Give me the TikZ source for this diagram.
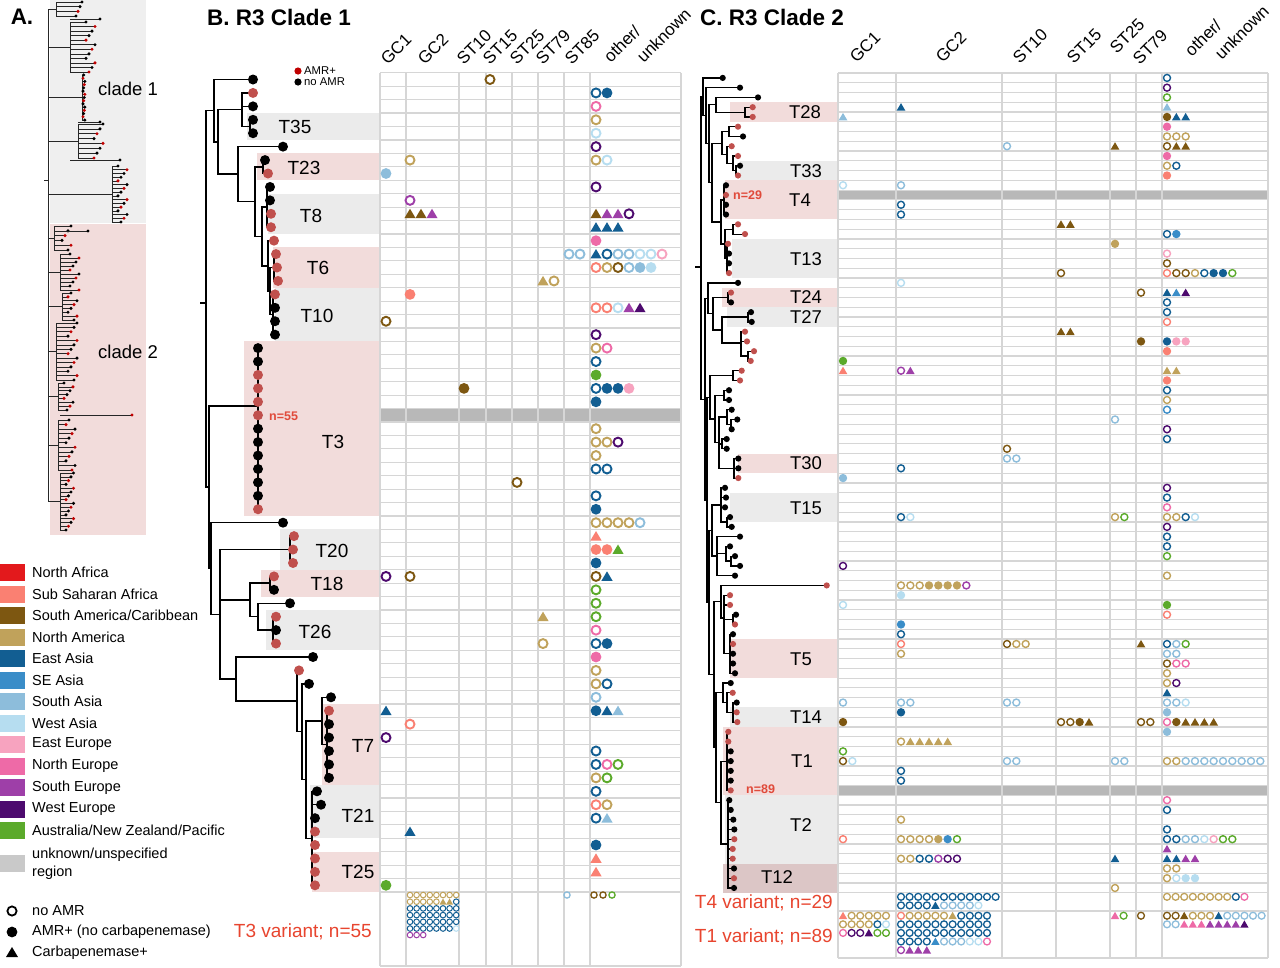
\documentclass[tikz,border=0pt]{standalone}
\usepackage{fontspec}
\setmainfont{Liberation Sans}
\definecolor{cNAf}{HTML}{E3191C}
\definecolor{cSSA}{HTML}{FA8072}
\definecolor{cSAm}{HTML}{7D5711}
\definecolor{cNAm}{HTML}{C0A25B}
\definecolor{cEA}{HTML}{125E92}
\definecolor{cSEA}{HTML}{3A8DC8}
\definecolor{cSAs}{HTML}{8DBDDB}
\definecolor{cWA}{HTML}{B6DDF0}
\definecolor{cEE}{HTML}{F7A3BF}
\definecolor{cNE}{HTML}{EE6AA7}
\definecolor{cSE}{HTML}{9E3FA8}
\definecolor{cWE}{HTML}{4D0A6E}
\definecolor{cAU}{HTML}{5BAA2B}
\definecolor{cUN}{HTML}{C9C9C9}
\definecolor{tred}{HTML}{C0504D}
\definecolor{ared}{HTML}{C00000}
\definecolor{bgray}{HTML}{EBEBEB}
\definecolor{agray}{HTML}{EFEFEF}
\definecolor{bpink}{HTML}{F2DCDB}
\definecolor{bdpink}{HTML}{DCC6C6}
\definecolor{gridc}{HTML}{D6D6D6}
\definecolor{sepc}{HTML}{B8B8B8}
\definecolor{vred}{HTML}{E8452F}
\definecolor{nred}{HTML}{E04A3A}
% markers
\newcommand\mkr[4]{%
  \if#1o\draw[draw=#2,line width=\mlw] ({#3},{#4}) circle (\mro);\fi
  \if#1f\fill[fill=#2] ({#3},{#4}) circle (\mrf);\fi
  \if#1t\fill[fill=#2] ({#3-\mth},{#4+\mtv}) -- ({#3+\mth},{#4+\mtv}) -- ({#3},{#4-\mtv*1.15}) -- cycle;\fi}
\newcommand\mrow[4]{\foreach \t/\c [count=\k from 0] in {#4} {\mkr{\t}{\c}{#1+#3*\k}{#2}}}
\newcommand\Br[3]{\mrow{#1}{79.5+13.43*#2}{11}{#3}}
\newcommand\Cr[3]{\mrow{#1}{77.9+9.76*#2}{9.33}{#3}}
\newcommand\szB{\def\mlw{1.9pt}\def\mro{4.5}\def\mrf{5.4}\def\mth{5.6}\def\mtv{4.4}}
\newcommand\szC{\def\mlw{1.4pt}\def\mro{3.5}\def\mrf{4.2}\def\mth{4.4}\def\mtv{3.5}}
\newcommand\szBb{\def\mlw{1.0pt}\def\mro{2.8}\def\mrf{3.3}\def\mth{3.4}\def\mtv{2.8}}
\newcommand\szCb{\def\mlw{1.3pt}\def\mro{3.45}\def\mrf{4.1}\def\mth{4.2}\def\mtv{3.4}}
\def\BGa{386}\def\BGb{410}\def\BSa{464}\def\BSb{490}\def\BSc{517}\def\BSd{543}\def\BSe{569}\def\BO{596}
\def\CGa{843}\def\CGb{901}\def\CSa{1007}\def\CSb{1061}\def\CSc{1115}\def\CSd{1141}\def\CO{1167}
% tree helpers
\newcommand\tnode[5]{\draw[#1] (#2,#3) -- (#2,#4);
  \foreach \cy/\cx in {#5} {\draw[#1] (#2,\cy) -- (\cx,\cy);}}
\newcommand\acomb[8]{%
  \draw[atr] (#1,{(#4+#5)/2}) -- (#2,{(#4+#5)/2}) (#2,#4) -- (#2,#5);
  \foreach \k in {1,...,#6}{%
    \pgfmathsetmacro\ay{#4+(#5-#4)*(\k-1)/(#6-1)}%
    \pgfmathsetmacro\ax{#3+#8*mod(\k*3+#7,4)}%
    \pgfmathtruncatemacro\ac{mod(\k*2+#7,5)}%
    \draw[atr] (#2,\ay) -- (\ax,\ay);
    \ifnum\ac<2 \fill[ared] (\ax,\ay) circle (1.7);\else\fill[black] (\ax,\ay) circle (1.7);\fi}}
\begin{document}
\begin{tikzpicture}[x=1pt,y=-1pt,
  btr/.style={line width=1.5pt,black,line cap=rect},
  ctr/.style={line width=1.2pt,black,line cap=rect},
  atr/.style={line width=0.6pt,black!85},
  gl/.style={line width=1.2pt,draw=gridc},
  ttl/.style={font=\fontsize{22.5}{24}\selectfont\bfseries,inner sep=0pt},
  hd/.style={font=\fontsize{17}{19}\selectfont,rotate=45,anchor=south west,inner sep=0pt},
  tlB/.style={font=\fontsize{19}{21}\selectfont,inner sep=0pt},
  tlC/.style={font=\fontsize{18.5}{20}\selectfont,inner sep=0pt},
  lg/.style={font=\fontsize{14.5}{16}\selectfont,anchor=west,inner sep=0pt},
  nlab/.style={font=\fontsize{12.5}{14}\selectfont\bfseries,text=nred,anchor=west,inner sep=0pt},
  vlab/.style={font=\fontsize{19}{21}\selectfont,text=vred,anchor=east,inner sep=0pt}]
\useasboundingbox (0,0) rectangle (1280,967);
\fill[white] (0,0) rectangle (1280,967);

% ---------------- Panel A ----------------
\fill[agray] (50,0) rectangle (146,222.5);
\fill[bpink] (50,224) rectangle (146,535);
\draw[atr] (48,9) -- (48,501);
\draw[atr] (44,180) -- (48,180);
\acomb{48}{56}{76}{2}{16}{4}{0}{2}
\acomb{48}{70}{86}{22}{72}{12}{1}{3}
\draw[atr] (70,19) -- (100,19); \fill (100,19) circle (1.7);
\acomb{48}{82}{83}{75}{120}{15}{2}{0.6}
\acomb{48}{78}{94}{124}{158}{8}{0}{3}
\draw[atr] (78,122) -- (100,122); \fill (100,122) circle (1.7);
\acomb{48}{112}{118}{166}{222}{16}{1}{3}
\draw[atr] (70,160) -- (120,160); \fill (120,160) circle (1.7);
\acomb{48}{54}{62}{226}{250}{6}{0}{3}
\draw[atr] (54,231) -- (88,231); \fill (88,231) circle (1.7);
\acomb{48}{60}{70}{254}{290}{10}{1}{3}
\acomb{48}{62}{68}{293}{320}{8}{2}{3}
\acomb{48}{56}{68}{323}{380}{14}{0}{3}
\acomb{48}{58}{64}{383}{410}{8}{1}{3}
\draw[atr] (60,415) -- (132,415); \fill[ared] (132,415) circle (1.7);
\acomb{48}{58}{66}{420}{470}{12}{2}{3}
\acomb{48}{60}{66}{473}{530}{16}{0}{2.5}
\node[font=\fontsize{18.5}{20}\selectfont,inner sep=0pt] (cl1) at (128,89) {clade 1};
\node[font=\fontsize{18.5}{20}\selectfont,inner sep=0pt] (cl2) at (128,352) {clade 2};

% ---------------- Titles ----------------
\node[ttl] (tA) at (22,17) {A.};
\node[ttl,anchor=west] (tB) at (207,17) {B. R3 Clade 1};
\node[ttl,anchor=west] (tC) at (700,17) {C. R3 Clade 2};

% ---------------- Panel B bands ----------------
\fill[bgray] (247,113.1) rectangle (380,140);
\fill[bpink] (257,153.4) rectangle (380,180.3);
\fill[bgray] (268,193.7) rectangle (380,234);
\fill[bpink] (273,247.4) rectangle (380,287.7);
\fill[bgray] (275,287.7) rectangle (380,341.4);
\fill[bpink] (244,341.4) rectangle (380,516.2);
\fill[bgray] (280,529.4) rectangle (380,569.7);
\fill[bpink] (261,569.7) rectangle (380,596.6);
\fill[bgray] (266,610) rectangle (380,650.3);
\fill[bpink] (322,704) rectangle (380,784.6);
\fill[bgray] (310,784.6) rectangle (380,838.3);
\fill[bpink] (312,851.7) rectangle (380,892);

% ---------------- Panel B grid ----------------
\fill[sepc] (380,408.6) rectangle (681,422);
\foreach \i in {0,...,61} {\draw[gl] (380,{72.8+13.43*\i}) -- (681,{72.8+13.43*\i});}
\draw[gl] (380,966) -- (681,966);
\foreach \xx in {380,406,459,486,512,538,564,590,681} {\draw[gl] (\xx,72.8) -- (\xx,966);}

% ---------------- Panel B tree ----------------
\tnode{btr}{214}{79.5}{142}{79.5/253,142/218}
\tnode{btr}{218}{109.7}{174.2}{109.7/242,174.2/238}
\tnode{btr}{242}{92.9}{126.5}{92.9/253,106.4/253,126.5/250}
\tnode{btr}{250}{119.8}{133.2}{119.8/253,133.2/253}
\tnode{btr}{238}{146.7}{201.6}{146.7/283,201.6/255}
\tnode{btr}{255}{166.8}{236.5}{166.8/263,236.5/262}
\tnode{btr}{263}{160.1}{173.5}{160.1/265,173.5/268}
\tnode{btr}{262}{207}{265.9}{207/267,265.9/268}
\tnode{btr}{267}{186.9}{227.2}{186.9/270,200.4/270,213.8/271,227.2/271}
\tnode{btr}{268}{240.7}{291}{240.7/274,291/270}
\tnode{btr}{270}{267.5}{314.5}{267.5/274,314.5/273}
\tnode{btr}{274}{254.1}{280.9}{254.1/276,267.5/277,280.9/278}
\tnode{btr}{273}{294.4}{334.7}{294.4/275,307.8/275,321.2/275,334.7/275}
\tnode{btr}{206}{110.7}{487}{110.7/214,487/209}
\draw[btr] (201,303) -- (206,303);
\tnode{btr}{209}{406}{568.5}{406/258,568.5/211}
\draw[btr] (258,348.1) -- (258,509.3);
\tnode{btr}{211}{522.7}{614.3}{522.7/283,614.3/220}
\tnode{btr}{220}{549.6}{679}{549.6/290,599.9/250,679/236}
\tnode{btr}{290}{536.1}{563}{536.1/294,549.6/293,563/293}
\tnode{btr}{250}{583.1}{616.7}{583.1/270,616.7/258}
\tnode{btr}{270}{576.4}{589.8}{576.4/274,589.8/274}
\tnode{btr}{258}{603.3}{630.1}{603.3/290,630.1/273}
\tnode{btr}{273}{616.7}{643.6}{616.7/276,630.1/276,643.6/276}
\tnode{btr}{236}{657}{701}{657/313,701/297}
\tnode{btr}{297}{670.4}{731.7}{670.4/299,731.7/302}
\tnode{btr}{302}{683.9}{779.5}{683.9/309,779.5/306}
\tnode{btr}{306}{720.8}{838.3}{720.8/322,838.3/312}
\tnode{btr}{322}{697.3}{744.3}{697.3/331,744.3/327}
\tnode{btr}{327}{710.7}{777.9}{710.7/329,724.1/329,737.6/329,751/329,764.4/329,777.9/329}
\tnode{btr}{312}{791.3}{885.3}{791.3/317,804.7/321,818.2/315,831.6/315,845/315,858.4/315,871.9/315,885.3/315}
\foreach \x/\r/\c in {253/0/black,253/1/tred,253/2/black,253/3/black,253/4/black,283/5/black,265/6/black,268/7/tred,270/8/black,270/9/black,271/10/tred,271/11/tred,274/12/tred,276/13/tred,277/14/tred,278/15/tred,275/16/tred,275/17/black,275/18/black,275/19/black,258/20/black,258/21/black,258/22/tred,258/23/tred,258/24/tred,258/25/tred,258/26/black,258/27/black,258/28/black,258/29/black,258/30/black,258/31/black,258/32/tred,283/33/black,294/34/tred,293/35/tred,293/36/tred,274/37/tred,274/38/black,290/39/black,276/40/tred,276/41/black,276/42/tred,313/43/black,299/44/tred,309/45/black,331/46/black,329/47/tred,329/48/black,329/49/black,329/50/black,329/51/black,329/52/black,317/53/black,321/54/black,315/55/black,315/56/tred,315/57/tred,315/58/tred,315/59/tred,315/60/tred}
  {\fill[fill=\c] (\x,{79.5+13.43*\r}) circle (5);}
% AMR legend
\fill[ared] (298,71) circle (3.6);
\fill[black] (298,82) circle (3.6);
\node[font=\fontsize{11.3}{12}\selectfont,anchor=west,inner sep=0pt] (amrp) at (304,71) {AMR+};
\node[font=\fontsize{11.3}{12}\selectfont,anchor=west,inner sep=0pt] (amrn) at (304,82) {no AMR};
% band labels
\node[tlB] (bT35) at (295,127) {T35};
\node[tlB] (bT23) at (304,168) {T23};
\node[tlB] (bT8) at (311,216) {T8};
\node[tlB] (bT6) at (318,268) {T6};
\node[tlB] (bT10) at (317,316) {T10};
\node[tlB] (bT3) at (333,442) {T3};
\node[tlB] (bT20) at (332,551) {T20};
\node[tlB] (bT18) at (327,584) {T18};
\node[tlB] (bT26) at (315,632) {T26};
\node[tlB] (bT7) at (363,746) {T7};
\node[tlB] (bT21) at (358,816) {T21};
\node[tlB] (bT25) at (358,872) {T25};
\node[nlab] (n55) at (269,416) {n=55};
% headers B
\node[hd] (hB1) at (388,66) {GC1};
\node[hd] (hB2) at (425,66) {GC2};
\node[hd] (hB3) at (464,66) {ST10};
\node[hd] (hB4) at (490,66) {ST15};
\node[hd] (hB5) at (517,66) {ST25};
\node[hd] (hB6) at (543,66) {ST79};
\node[hd] (hB7) at (572,66) {ST85};
\node[hd] (hB8) at (611,64) {other/};
\node[hd] (hB9) at (644,64) {unknown};
% markers B
\szB
\Br{\BSb}{0}{o/cSAm}
\Br{\BO}{1}{o/cEA,f/cEA}
\Br{\BO}{2}{o/cNE}
\Br{\BO}{3}{o/cNAm}
\Br{\BO}{4}{o/cWA}
\Br{\BO}{5}{o/cWE}
\Br{\BGb}{6}{o/cNAm}
\Br{\BO}{6}{o/cNAm,o/cWA}
\Br{\BGa}{7}{f/cSAs}
\Br{\BO}{8}{o/cWE}
\Br{\BGb}{9}{o/cSE}
\Br{\BGb}{10}{t/cSAm,t/cSAm,t/cSE}
\Br{\BO}{10}{t/cSAm,t/cSE,t/cSE,o/cWE}
\Br{\BO}{11}{t/cEA,t/cEA,t/cEA}
\Br{\BO}{12}{f/cNE}
\Br{\BSe}{13}{o/cSAs,o/cSAs}
\Br{\BO}{13}{t/cEA,o/cEA,o/cSAs,o/cSAs,o/cWA,o/cWA,o/cEE}
\Br{\BO}{14}{o/cSSA,o/cNAm,o/cSAm,o/cSAs,f/cSAs,f/cWA}
\Br{\BSd}{15}{t/cNAm,o/cNAm}
\Br{\BGb}{16}{f/cSSA}
\Br{\BO}{17}{o/cSSA,o/cSSA,o/cWA,t/cSE,t/cWE}
\Br{\BGa}{18}{o/cSAm}
\Br{\BO}{19}{o/cWE}
\Br{\BO}{20}{o/cNAm,o/cNE}
\Br{\BO}{21}{o/cEA}
\Br{\BO}{22}{f/cAU}
\Br{\BSa}{23}{f/cSAm}
\Br{\BO}{23}{o/cEA,f/cEA,f/cEA,f/cEE}
\Br{\BO}{24}{f/cEA}
\Br{\BO}{26}{o/cNAm}
\Br{\BO}{27}{o/cNAm,o/cNAm,o/cWE}
\Br{\BO}{28}{o/cNAm}
\Br{\BO}{29}{o/cEA,o/cEA}
\Br{\BSc}{30}{o/cSAm}
\Br{\BO}{31}{o/cEA}
\Br{\BO}{32}{f/cEA}
\Br{\BO}{33}{o/cNAm,o/cNAm,o/cNAm,o/cNAm,o/cSAs}
\Br{\BO}{34}{t/cSSA}
\Br{\BO}{35}{f/cSSA,f/cSSA,t/cAU}
\Br{\BO}{36}{f/cEA}
\Br{\BGa}{37}{o/cWE}
\Br{\BGb}{37}{o/cSAm}
\Br{\BO}{37}{o/cSAm,t/cEA}
\Br{\BO}{38}{o/cAU}
\Br{\BO}{39}{o/cAU}
\Br{\BSd}{40}{t/cNAm}
\Br{\BO}{40}{o/cAU}
\Br{\BO}{41}{o/cNE}
\Br{\BSd}{42}{o/cNAm}
\Br{\BO}{42}{o/cEA,f/cEA}
\Br{\BO}{43}{f/cNE}
\Br{\BO}{44}{o/cNAm}
\Br{\BO}{45}{o/cNAm,o/cEA}
\Br{\BO}{46}{o/cSAs}
\Br{\BGa}{47}{t/cEA}
\Br{\BO}{47}{f/cEA,t/cEA,t/cSAs}
\Br{\BGb}{48}{o/cSSA}
\Br{\BGa}{49}{o/cWE}
\Br{\BO}{50}{o/cEA}
\Br{\BO}{51}{o/cEA,o/cNE,o/cAU}
\Br{\BO}{52}{o/cNAm,o/cAU}
\Br{\BO}{53}{o/cEA}
\Br{\BO}{54}{o/cSSA,o/cNAm}
\Br{\BO}{55}{o/cEA,t/cSAs}
\Br{\BGb}{56}{t/cEA}
\Br{\BO}{57}{f/cEA}
\Br{\BO}{58}{t/cSSA}
\Br{\BO}{59}{t/cSSA}
\Br{\BGa}{60}{f/cAU}
% B summary block
\szBb
\mrow{410}{895}{6.6}{o/cNAm,o/cNAm,o/cNAm,o/cNAm,o/cNAm,o/cNAm,o/cNAm,o/cNAm}
\mrow{410}{901.7}{6.6}{o/cNAm,o/cNAm,o/cNAm,o/cNAm,o/cNAm,t/cNAm,t/cNAm,o/cEA}
\mrow{410}{908.4}{6.6}{o/cEA,o/cEA,o/cEA,o/cEA,o/cEA,o/cEA,o/cEA,o/cEA}
\mrow{410}{915.1}{6.6}{o/cEA,o/cEA,o/cEA,o/cEA,o/cEA,o/cEA,o/cEA,o/cEA}
\mrow{410}{921.8}{6.6}{o/cEA,o/cEA,o/cEA,o/cEA,o/cEA,o/cEA,o/cEA,o/cEA}
\mrow{410}{928.5}{6.6}{o/cEA,o/cEA,o/cEA,o/cEA,o/cEA,o/cEA,o/cEA,o/cWA}
\mrow{410}{935}{6.6}{o/cSE,o/cSE,o/cSE}
\def\mro{3.1}\def\mlw{1.3pt}
\mrow{567}{895}{9}{o/cSAs}
\mrow{594}{895}{9}{o/cSAm,o/cSAm,o/cAU}
\node[vlab] (v3) at (372,932) {T3 variant; n=55};

% ---------------- Panel C bands ----------------
\fill[bpink] (730,102.3) rectangle (838,121.8);
\fill[bgray] (740,160.8) rectangle (838,180.4);
\fill[bpink] (725,180.4) rectangle (838,219.4);
\fill[bgray] (732,238.9) rectangle (838,278);
\fill[bpink] (722,287.7) rectangle (838,307.2);
\fill[bgray] (727,307.2) rectangle (838,326.8);
\fill[bpink] (738,453.6) rectangle (838,473.2);
\fill[bgray] (730,492.7) rectangle (838,522);
\fill[bpink] (730,639.1) rectangle (838,678.2);
\fill[bgray] (730,707.4) rectangle (838,726.9);
\fill[bpink] (723,726.9) rectangle (838,795.3);
\fill[bgray] (725,795.3) rectangle (838,863.6);
\fill[bdpink] (723,863.6) rectangle (838,892.9);

% ---------------- Panel C grid ----------------
\fill[sepc] (838,190.1) rectangle (1268,199.9);
\fill[sepc] (838,785.5) rectangle (1268,795.3);
\foreach \i in {0,...,84} {\draw[gl] (838,{73+9.76*\i}) -- (1268,{73+9.76*\i});}
\draw[gl] (838,911) -- (1268,911);
\draw[gl] (838,958) -- (1268,958);
\foreach \xx in {838,896,1002,1056,1110,1136,1162,1268} {\draw[gl] (\xx,73) -- (\xx,958);}

% ---------------- Panel C tree ----------------
\tnode{ctr}{745}{107.2}{117}{107.2/752.7,117/752.7}
\tnode{ctr}{716}{97.4}{112.1}{97.4/758,112.1/745}
\tnode{ctr}{729}{126.7}{136.5}{126.7/738,136.5/743}
\tnode{ctr}{736}{165.7}{175.5}{165.7/740,175.5/738}
\tnode{ctr}{733}{156}{170.6}{156/738,170.6/736}
\tnode{ctr}{727}{146.2}{163.3}{146.2/731.7,163.3/733}
\tnode{ctr}{722}{131.6}{154.8}{131.6/729,154.8/727}
\tnode{ctr}{724}{185.3}{214.5}{185.3/726,195/726,204.8/726,214.5/726}
\tnode{ctr}{733}{224.3}{234.1}{224.3/738,234.1/745}
\tnode{ctr}{727}{243.8}{273.1}{243.8/728,253.6/729,263.3/729,273.1/729}
\tnode{ctr}{725}{229.2}{258.5}{229.2/733,258.5/727}
\tnode{ctr}{721}{199.9}{243.9}{199.9/724,243.9/725}
\tnode{ctr}{712}{143.2}{221.9}{143.2/722,221.9/721}
\tnode{ctr}{709}{104.8}{182.6}{104.8/716,182.6/712}
\tnode{ctr}{706}{87.7}{143.7}{87.7/740,143.7/709}
\tnode{ctr}{703}{77.9}{115.7}{77.9/722.7,115.7/706}
\tnode{ctr}{728}{292.6}{302.4}{292.6/731,302.4/731}
\tnode{ctr}{748}{312.1}{321.9}{312.1/751,321.9/751.7}
\tnode{ctr}{748}{351.2}{360.9}{351.2/754,360.9/750.7}
\tnode{ctr}{741}{331.7}{356}{331.7/745,341.4/747,356/748}
\tnode{ctr}{722}{317}{343}{317/748,343/741}
\tnode{ctr}{713}{297.5}{330}{297.5/728,330/722}
\tnode{ctr}{708}{282.9}{313.8}{282.9/738,313.8/713}
\tnode{ctr}{733}{370.7}{380.5}{370.7/741.7,380.5/740}
\tnode{ctr}{724}{390.2}{400}{390.2/729,400/729}
\tnode{ctr}{731}{419.5}{429.3}{419.5/737.3,429.3/731.7}
\tnode{ctr}{727}{409.7}{424.4}{409.7/731.7,424.4/731}
\tnode{ctr}{722}{439}{448.8}{439/726.7,448.8/726.7}
\tnode{ctr}{734}{458.5}{478.1}{458.5/738.3,468.3/738.3,478.1/738.3}
\tnode{ctr}{719}{417}{468.3}{417/727,443.9/722,468.3/734}
\tnode{ctr}{715}{395.1}{442.7}{395.1/724,442.7/719}
\tnode{ctr}{710}{375.6}{418.9}{375.6/733,418.9/715}
\tnode{ctr}{727}{517.1}{526.9}{517.1/730,526.9/731.7}
\tnode{ctr}{721}{487.8}{522}{487.8/725,497.6/726,507.3/725,522/727}
\tnode{ctr}{731}{556.1}{565.9}{556.1/735,565.9/740}
\tnode{ctr}{726}{546.4}{561}{546.4/730,561/731}
\tnode{ctr}{717}{536.6}{575.7}{536.6/740,553.7/726,575.7/735}
\tnode{ctr}{712}{505}{556}{505/721,556/717}
\tnode{ctr}{733}{614.7}{624.5}{614.7/736,624.5/735}
\tnode{ctr}{730}{634.2}{673.3}{634.2/733,644/733,653.7/733,663.5/733,673.3/735}
\tnode{ctr}{724}{595.2}{653.7}{595.2/730,604.9/730,619.6/733,653.7/730}
\tnode{ctr}{721}{585.4}{618}{585.4/826.7,618/724}
\tnode{ctr}{733}{702.5}{722.1}{702.5/736.7,712.3/736.7,722.1/737.3}
\tnode{ctr}{727}{692.8}{712.3}{692.8/732.7,712.3/733}
\tnode{ctr}{723}{683}{702.5}{683/730.7,702.5/727}
\tnode{ctr}{727}{731.8}{790.4}{731.8/728.3,741.6/728.3,751.3/730.7,761.1/730.7,770.9/730.7,780.6/730.7,790.4/730.7}
\tnode{ctr}{728}{800.1}{888}{800.1/729.3,809.9/730.7,819.7/733.3,829.4/734.3,839.2/734.3,848.9/732.7,858.7/732.7,868.5/734,878.2/734,888/734}
\tnode{ctr}{721}{761.1}{844}{761.1/727,844/728}
\tnode{ctr}{716}{692.8}{802.6}{692.8/723,802.6/721}
\tnode{ctr}{714}{601.7}{747.7}{601.7/721,747.7/716}
\tnode{ctr}{709}{530.5}{674.7}{530.5/712,674.7/714}
\tnode{ctr}{707}{397.2}{602.6}{397.2/710,602.6/709}
\tnode{ctr}{705}{298.3}{499.9}{298.3/708,499.9/707}
\tnode{ctr}{701}{96.8}{399.1}{96.8/703,399.1/705}
\draw[ctr] (696,267) -- (701,267);
\foreach \x/\r/\c in {722.7/0/black,740/1/black,758/2/black,752.7/3/tred,752.7/4/tred,738/5/tred,743/6/black,731.7/7/tred,738/8/tred,740/9/black,738/10/tred,726/11/black,726/12/tred,726/13/black,726/14/black,738/15/tred,745/16/tred,728/17/tred,729/18/black,729/19/black,729/20/tred,738/21/black,731/22/tred,731/23/black,751/24/black,751.7/25/black,745/26/tred,747/27/tred,754/28/tred,750.7/29/tred,741.7/30/tred,740/31/tred,729/32/black,729/33/black,731.7/34/black,737.3/35/black,731.7/36/black,726.7/37/black,726.7/38/black,738.3/39/black,738.3/40/black,738.3/41/tred,725/42/black,726/43/black,725/44/black,730/45/black,731.7/46/black,740/47/black,730/48/black,735/49/black,740/50/black,735/51/black,826.7/52/tred,730/53/tred,730/54/tred,736/55/black,735/56/tred,733/57/black,733/58/tred,733/59/black,733/60/black,735/61/black,730.7/62/black,732.7/63/tred,736.7/64/black,736.7/65/tred,737.3/66/tred,728.3/67/tred,728.3/68/tred,730.7/69/black,730.7/70/black,730.7/71/black,730.7/72/black,730.7/73/tred,729.3/74/black,730.7/75/black,733.3/76/black,734.3/77/black,734.3/78/tred,732.7/79/tred,732.7/80/tred,734/81/black,734/82/tred,734/83/black}
  {\fill[fill=\c] (\x,{77.9+9.76*\r}) circle (3.1);}
% band labels C
\node[tlC] (cT28) at (805,112) {T28};
\node[tlC] (cT33) at (806,171) {T33};
\node[tlC] (cT4) at (800,200) {T4};
\node[tlC] (cT13) at (806,259) {T13};
\node[tlC] (cT24) at (806,297) {T24};
\node[tlC] (cT27) at (806,317) {T27};
\node[tlC] (cT30) at (806,463) {T30};
\node[tlC] (cT15) at (806,508) {T15};
\node[tlC] (cT5) at (801,659) {T5};
\node[tlC] (cT14) at (806,717) {T14};
\node[tlC] (cT1) at (802,761) {T1};
\node[tlC] (cT2) at (801,825) {T2};
\node[tlC] (cT12) at (777,877) {T12};
\node[nlab] (n29) at (733,195) {n=29};
\node[nlab] (n89) at (746,789) {n=89};
% headers C
\node[hd] (hC1) at (857,64) {GC1};
\node[hd] (hC2) at (943,64) {GC2};
\node[hd] (hC3) at (1020,65) {ST10};
\node[hd] (hC4) at (1074,65) {ST15};
\node[hd] (hC5) at (1117,55) {ST25};
\node[hd] (hC6) at (1140,66) {ST79};
\node[hd] (hC7) at (1192,58) {other/};
\node[hd] (hC8) at (1222,61) {unknown};
% markers C
\szC
\Cr{\CO}{0}{o/cEA}
\Cr{\CO}{1}{o/cWE}
\Cr{\CO}{2}{o/cAU}
\Cr{\CGb}{3}{t/cEA}
\Cr{\CO}{3}{t/cSAs}
\Cr{\CGa}{4}{t/cSAs}
\Cr{\CO}{4}{f/cSAm,t/cEA,t/cEA}
\Cr{\CO}{5}{f/cNE}
\Cr{\CO}{6}{o/cNAm,o/cNAm,o/cNAm}
\Cr{\CSa}{7}{o/cSAs}
\Cr{\CSc}{7}{t/cSAm}
\Cr{\CO}{7}{o/cSAm,t/cSAm,t/cSAm}
\Cr{\CO}{8}{f/cNE}
\Cr{\CO}{9}{o/cNAm,o/cEA}
\Cr{\CO}{10}{f/cSSA}
\Cr{\CGa}{11}{o/cWA}
\Cr{\CGb}{11}{o/cSAs}
\Cr{\CGb}{13}{o/cEA}
\Cr{\CGb}{14}{o/cEA}
\Cr{\CSb}{15}{t/cSAm,t/cSAm}
\Cr{\CO}{16}{o/cEA,f/cSEA}
\Cr{\CSc}{17}{f/cNAm}
\Cr{\CO}{18}{o/cEE}
\Cr{\CO}{19}{o/cSAm}
\Cr{\CSb}{20}{o/cSAm}
\Cr{\CO}{20}{o/cSSA,o/cSAm,o/cSAm,o/cNAm,o/cEA,f/cEA,f/cEA,o/cAU}
\Cr{\CGb}{21}{o/cWA}
\Cr{\CSd}{22}{o/cSAm}
\Cr{\CO}{22}{t/cEA,t/cSEA,t/cWE}
\Cr{\CO}{23}{o/cEA}
\Cr{\CO}{24}{o/cEA}
\Cr{\CO}{25}{o/cSSA}
\Cr{\CSb}{26}{t/cSAm,t/cSAm}
\Cr{\CSd}{27}{f/cSAm}
\Cr{\CO}{27}{f/cEA,f/cEE,f/cEE}
\Cr{\CO}{28}{f/cSSA}
\Cr{\CGa}{29}{f/cAU}
\Cr{\CGa}{30}{t/cSSA}
\Cr{\CGb}{30}{o/cSE,t/cSE}
\Cr{\CO}{30}{t/cNAm,t/cNAm}
\Cr{\CO}{31}{f/cSSA}
\Cr{\CO}{32}{o/cEA}
\Cr{\CO}{33}{o/cNAm}
\Cr{\CO}{34}{o/cSEA}
\Cr{\CSc}{35}{o/cSAs}
\Cr{\CO}{36}{o/cWE}
\Cr{\CO}{37}{o/cEA}
\Cr{\CSa}{38}{o/cSAm}
\Cr{\CSa}{39}{o/cSAs,o/cSAs}
\Cr{\CGb}{40}{o/cEA}
\Cr{\CGa}{41}{f/cSAs}
\Cr{\CO}{42}{o/cWE}
\Cr{\CO}{43}{o/cEA}
\Cr{\CO}{44}{o/cNE}
\Cr{\CGb}{45}{o/cEA,o/cWA}
\Cr{\CSc}{45}{o/cNAm,o/cAU}
\Cr{\CO}{45}{o/cNAm,o/cNAm,o/cEA,o/cWA}
\Cr{\CO}{46}{o/cWE}
\Cr{\CO}{47}{o/cEA}
\Cr{\CO}{48}{o/cEA}
\Cr{\CO}{49}{o/cAU}
\Cr{\CGa}{50}{o/cWE}
\Cr{\CO}{51}{o/cNAm}
\Cr{\CGb}{52}{o/cNAm,o/cNAm,o/cNAm,f/cNAm,f/cNAm,f/cNAm,f/cNAm,o/cSE}
\Cr{\CGb}{53}{f/cWA}
\Cr{\CGa}{54}{o/cWA}
\Cr{\CO}{54}{f/cAU}
\Cr{\CO}{55}{o/cSSA}
\Cr{\CGb}{56}{f/cSEA}
\Cr{\CGb}{57}{o/cEA}
\Cr{\CGb}{58}{o/cSSA}
\Cr{\CSa}{58}{o/cSAm,o/cNAm,o/cNAm}
\Cr{\CSd}{58}{t/cSAm}
\Cr{\CO}{58}{o/cEA,o/cSAs,o/cAU}
\Cr{\CGb}{59}{o/cNAm}
\Cr{\CO}{59}{o/cSAs,o/cSAs}
\Cr{\CO}{60}{o/cSAm,o/cNE,o/cNE}
\Cr{\CO}{61}{o/cNAm}
\Cr{\CO}{62}{o/cNAm,o/cWE}
\Cr{\CO}{63}{t/cEA}
\Cr{\CGa}{64}{o/cSAs}
\Cr{\CGb}{64}{o/cSAs,o/cSAs}
\Cr{\CSa}{64}{o/cSAs,o/cSAs}
\Cr{\CO}{64}{o/cSAs,o/cSAs,o/cWA}
\Cr{\CGb}{65}{f/cEA}
\Cr{\CO}{65}{f/cSAs}
\Cr{\CGa}{66}{f/cSAm}
\Cr{\CSb}{66}{o/cSAm,o/cSAm,f/cSAm,t/cSAm}
\Cr{\CSd}{66}{o/cSAm,o/cSAm}
\Cr{\CO}{66}{o/cNE,f/cSAm,t/cSAm,t/cSAm,t/cSAm,t/cSAm}
\Cr{\CO}{67}{f/cSAs}
\Cr{\CGb}{68}{o/cNAm,t/cNAm,t/cNAm,t/cNAm,t/cNAm,t/cNAm}
\Cr{\CGa}{69}{o/cAU}
\Cr{\CGa}{70}{o/cSAm,o/cWA}
\Cr{\CSa}{70}{o/cSAs,o/cSAs}
\Cr{\CSc}{70}{o/cSAs,o/cSAs}
\Cr{\CO}{70}{o/cNAm,o/cNAm,o/cSAs,o/cSAs,o/cSAs,o/cSAs,o/cSAs,o/cSAs,o/cSAs,o/cSAs,o/cSAs}
\Cr{\CGb}{71}{o/cEA}
\Cr{\CGb}{72}{o/cEA}
\Cr{\CO}{74}{o/cNE}
\Cr{\CO}{75}{o/cEA}
\Cr{\CGb}{76}{o/cNAm}
\Cr{\CO}{77}{o/cEA}
\Cr{\CGa}{78}{o/cSSA}
\Cr{\CGb}{78}{o/cNAm,o/cNAm,o/cNAm,o/cNAm,f/cNAm,f/cSEA,o/cAU}
\Cr{\CO}{78}{o/cEA,o/cEA,o/cSAs,o/cSAs,o/cWA,o/cEE,o/cAU,o/cAU}
\Cr{\CO}{79}{t/cSE}
\Cr{\CGb}{80}{o/cNAm,o/cNAm,o/cEA,o/cEA,o/cSE,o/cWE,o/cWE}
\Cr{\CSc}{80}{t/cEA}
\Cr{\CO}{80}{t/cEA,t/cEA,t/cSE,t/cSE}
\Cr{\CO}{81}{o/cNAm,o/cNAm}
\Cr{\CO}{82}{o/cNAm,o/cWA,f/cWA,f/cWA}
\Cr{\CSc}{83}{o/cNAm}
% C summary blocks
\szCb
\mrow{901}{896.8}{8.6}{o/cEA,o/cEA,o/cEA,o/cEA,o/cEA,o/cEA,o/cEA,o/cEA,o/cEA,o/cEA,o/cEA,o/cEA}
\mrow{901}{905.4}{8.6}{o/cEA,o/cEA,o/cEA,o/cEA,t/cEA,o/cSAs,o/cSAs,o/cSAs,o/cSAs,o/cWA}
\mrow{1167}{896.8}{8.6}{o/cNAm,o/cNAm,o/cNAm,o/cNAm,o/cNAm,o/cNAm,o/cNAm,o/cNAm,o/cEA,o/cNE}
\mrow{843}{915.7}{8.6}{t/cSSA,o/cNAm,o/cNAm,o/cNAm,o/cNAm,o/cNAm}
\mrow{843}{924.3}{8.6}{o/cNAm,o/cNAm,o/cNAm,o/cNAm,o/cEA,o/cWA}
\mrow{843}{932.9}{8.6}{o/cNE,o/cWE,o/cWE,t/cWE,o/cAU,o/cAU}
\mrow{901}{915.7}{8.6}{o/cSSA,o/cNAm,o/cNAm,o/cNAm,o/cNAm,o/cNAm,t/cNAm,o/cEA,o/cEA,o/cEA,o/cEA}
\mrow{901}{924.3}{8.6}{o/cEA,o/cEA,o/cEA,o/cEA,o/cEA,o/cEA,o/cEA,o/cEA,o/cEA,o/cEA,o/cEA}
\mrow{901}{932.9}{8.6}{o/cEA,o/cEA,o/cEA,o/cEA,o/cEA,o/cEA,o/cEA,o/cEA,o/cEA,o/cEA,o/cEA}
\mrow{901}{941.5}{8.6}{o/cEA,o/cEA,o/cEA,o/cEA,t/cSEA,o/cSAs,o/cSAs,o/cSAs,o/cWA,o/cWA,o/cNE}
\mrow{901}{950.1}{8.6}{o/cSE,t/cSE,t/cSE,t/cSE}
\mrow{1115}{915.7}{8.6}{t/cNE,o/cAU}
\mrow{1141}{915.7}{8.6}{o/cSAm}
\mrow{1167}{915.7}{8.6}{o/cSAm,o/cSAm,t/cSAm,o/cNAm,o/cNAm,o/cNAm,t/cEA,o/cSAs,o/cSAs,o/cSAs,o/cSAs,o/cSAs}
\mrow{1167}{924.3}{8.6}{o/cSAs,o/cSAs,t/cNE,t/cNE,t/cNE,t/cSE,t/cSE,t/cSE,t/cSE,t/cWE}
\node[vlab] (v4) at (833,903) {T4 variant; n=29};
\node[vlab] (v1) at (833,937) {T1 variant; n=89};

% ---------------- Legend ----------------
\foreach \cl [count=\k from 0] in {cNAf,cSSA,cSAm,cNAm,cEA,cSEA,cSAs,cWA,cEE,cNE,cSE,cWE,cAU}
  {\fill[fill=\cl] (0,{564+21.5*\k}) rectangle (25,{581+21.5*\k});}
\node[lg] (l1) at (32,572.5) {North Africa};
\node[lg] (l2) at (32,594) {Sub Saharan Africa};
\node[lg] (l3) at (32,615.5) {South America/Caribbean};
\node[lg] (l4) at (32,637) {North America};
\node[lg] (l5) at (32,658.5) {East Asia};
\node[lg] (l6) at (32,680) {SE Asia};
\node[lg] (l7) at (32,701.5) {South Asia};
\node[lg] (l8) at (32,723) {West Asia};
\node[lg] (l9) at (32,744.5) {East Europe};
\node[lg] (l10) at (32,766) {North Europe};
\node[lg] (l11) at (32,787.5) {South Europe};
\node[lg] (l12) at (32,809) {West Europe};
\node[lg] (l13) at (32,830.5) {Australia/New Zealand/Pacific};
\fill[cUN] (0,855) rectangle (25,872);
\node[lg] (l14) at (32,855) {unknown/unspecified};
\node[lg] (l15) at (32,873) {region};
\draw[line width=1.8pt] (12,911) circle (4.6);
\fill (12,932) circle (5.4);
\fill (6,957) -- (18,957) -- (12,947) -- cycle;
\node[lg] (l16) at (32,911) {no AMR};
\node[lg] (l17) at (32,932) {AMR+ (no carbapenemase)};
\node[lg] (l18) at (32,953) {Carbapenemase+};
\end{tikzpicture}
\end{document}
